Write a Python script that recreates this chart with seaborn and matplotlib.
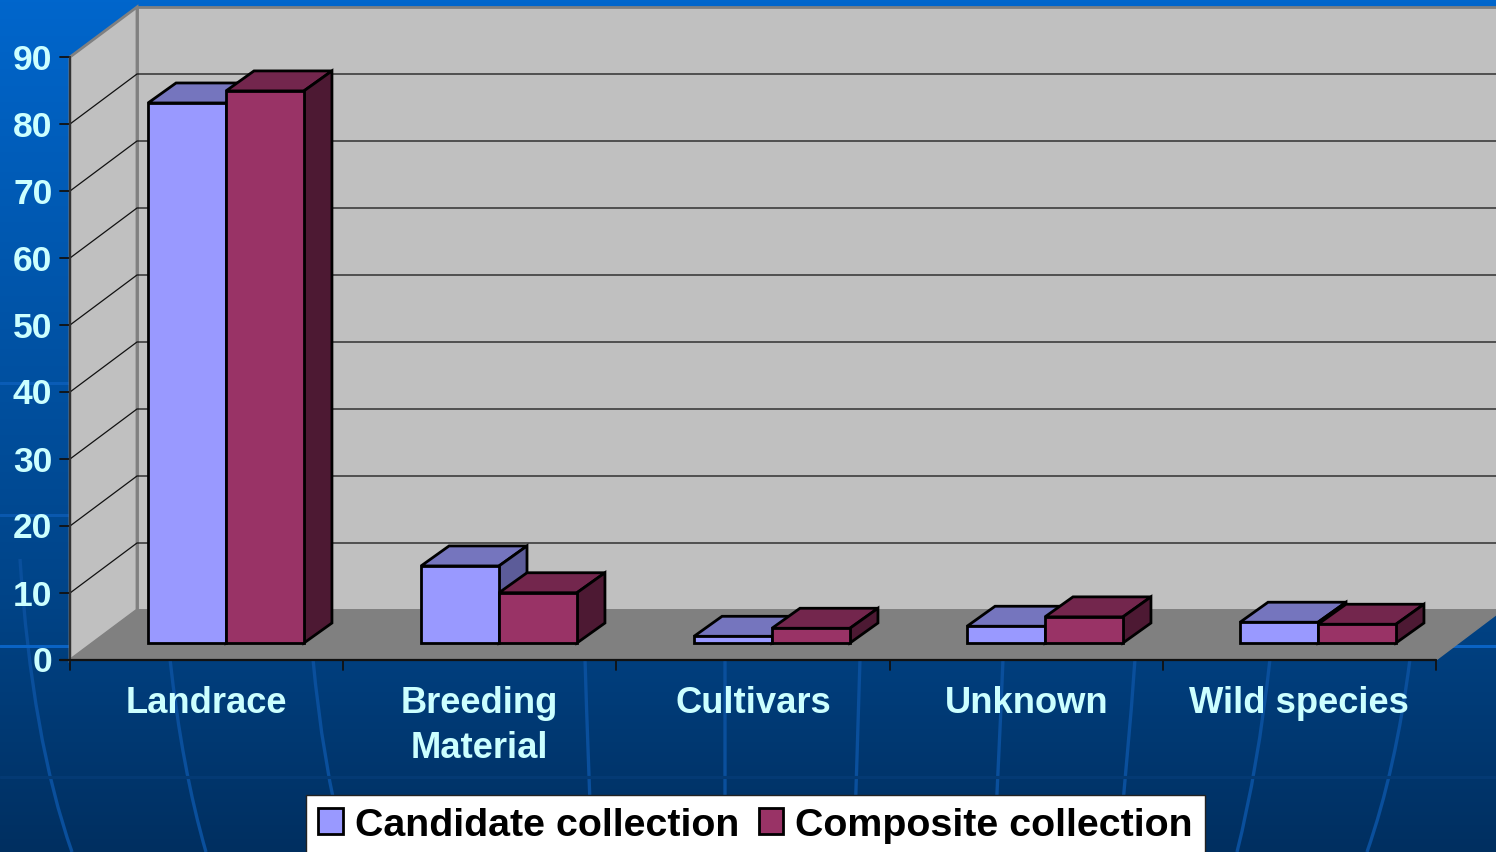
import numpy as np
import pandas as pd
import matplotlib
matplotlib.use("Agg")
import matplotlib.pyplot as plt
from matplotlib.colors import LinearSegmentedColormap
from matplotlib.patches import Polygon, PathPatch
from matplotlib.path import Path
import seaborn as sns

categories = ["Landrace", "Breeding\nMaterial", "Cultivars", "Unknown", "Wild species"]
candidate_values = [80.6, 11.5, 1.0, 2.5, 3.1]
composite_values = [82.4, 7.5, 2.2, 3.9, 2.8]
series_names = ["Candidate collection", "Composite collection"]
y_ticks = [0, 10, 20, 30, 40, 50, 60, 70, 80, 90]

W, H = 1496, 853
FRONT_COLORS = ["#9999FF", "#993366"]
TOP_COLORS = ["#7575BE", "#73264D"]
SIDE_COLORS = ["#5C5C99", "#4D1933"]
LABEL_COLOR = "#CCFFFF"

sns.set_theme(style="white")
plt.rcParams["font.family"] = ["Liberation Sans", "DejaVu Sans"]
plt.rcParams["font.weight"] = "bold"

fig = plt.figure(figsize=(W / 100, H / 100), dpi=100)

# Backdrop and chart box are laid out in screen units on their own axes
bg = fig.add_axes([0, 0, 1, 1], zorder=0)
bg.set_xlim(0, W)
bg.set_ylim(H, 0)
bg.set_axis_off()

cmap = LinearSegmentedColormap.from_list(
    "backdrop", [(0, "#0066CC"), (0.2, "#005CB8"), (0.7, "#004488"), (1, "#002F60")]
)
bg.imshow(np.linspace(0, 1, 256)[:, None], cmap=cmap, extent=(0, W, H, 0), aspect="auto", zorder=0)

# Faint globe meridians and parallels behind the chart
meridians = [
    [(20, 560), (32, 740), (72, 853)],
    [(170, 660), (182, 770), (206, 853)],
    [(313, 660), (322, 760), (345, 853)],
    [(585, 660), (588, 760), (592, 853)],
    [(725, 660), (725, 760), (725, 853)],
    [(860, 660), (857, 760), (854, 853)],
    [(1003, 660), (999, 760), (994, 853)],
    [(1135, 660), (1128, 760), (1118, 853)],
    [(1270, 660), (1258, 770), (1237, 853)],
    [(1410, 660), (1396, 770), (1367, 853)],
]
for points in meridians:
    path = Path(points, [Path.MOVETO, Path.CURVE3, Path.CURVE3])
    bg.add_patch(PathPatch(path, fc="none", ec="#0A4F9C", lw=2.4, zorder=1))
for y, x0, x1, colour in [
    (647, 0, 70, "#0A63C4"), (647, 1450, W, "#0A63C4"),
    (516, 0, 70, "#0A58AE"), (384, 0, 70, "#0A5CB6"), (778, 0, W, "#043A74"),
]:
    bg.plot([x0, x1], [y, y], color=colour, lw=2.2, zorder=1)

# Chart box: back wall, side wall and floor
DX, DY = 67, 50
AX_L, AX_R, AX_B, AX_T = 70, 1436, 661, 58
PX_PER_UNIT = (AX_B - AX_T) / 90
bg.add_patch(Polygon([(AX_L + DX, AX_T - DY), (W + 5, AX_T - DY), (W + 5, AX_B - DY), (AX_L + DX, AX_B - DY)],
                     fc="#C0C0C0", ec="#808080", lw=2, zorder=2))
bg.add_patch(Polygon([(AX_L, AX_T), (AX_L + DX, AX_T - DY), (AX_L + DX, AX_B - DY), (AX_L, AX_B)],
                     fc="#C0C0C0", ec="#808080", lw=2, zorder=2))
bg.add_patch(Polygon([(AX_L, AX_B), (AX_L + DX, AX_B - DY), (W + 5, AX_B - DY), (W + 5, AX_B - DY + 1), (AX_R, AX_B)],
                     fc="#808080", ec="#808080", lw=1, zorder=3))

for v in y_ticks:
    y = AX_B - v * PX_PER_UNIT
    if 0 < v < 90:
        bg.plot([AX_L, AX_L + DX, W], [y, y - DY, y - DY], color="#111111", lw=0.9, zorder=3,
                solid_joinstyle="miter")
    bg.plot([60, AX_L], [y, y], color="#111111", lw=1.3, zorder=4)
    bg.text(52.5, y + 2, str(v), ha="right", va="center", color=LABEL_COLOR, fontsize=25.5, fontweight="bold", zorder=5)

bg.plot([AX_L, AX_L], [AX_T, AX_B], color="#333333", lw=1.5, zorder=4)
bg.plot([60, AX_R], [AX_B, AX_B], color="#111111", lw=1.6, zorder=4)

x_edges = np.linspace(AX_L, AX_R, len(categories) + 1)
for x in x_edges:
    bg.plot([x, x], [AX_B, AX_B + 10], color="#111111", lw=1.3, zorder=4)
for name, x0, x1 in zip(categories, x_edges[:-1], x_edges[1:]):
    bg.text((x0 + x1) / 2, 686, name, ha="center", va="top", color=LABEL_COLOR, fontsize=26.2,
            fontweight="bold", linespacing=1.36, zorder=5)

# Bars live on a transparent data axes overlaid on the box
ax = fig.add_axes([0, 0, 1, 1], zorder=1)
ax.patch.set_alpha(0)

frame = pd.DataFrame({
    "category": categories * 2,
    "series": [series_names[0]] * len(categories) + [series_names[1]] * len(categories),
    "value": candidate_values + composite_values,
})
sns.barplot(
    data=frame, x="category", y="value", hue="series", hue_order=series_names,
    order=categories, palette=FRONT_COLORS, saturation=1, width=0.571,
    edgecolor="black", linewidth=2, ax=ax,
)

CATEGORY_STEP = 273.0
FIRST_CENTER = 226.0
BASELINE = 644.0
ax.set_xlim(-FIRST_CENTER / CATEGORY_STEP, (W - FIRST_CENTER) / CATEGORY_STEP)
ax.set_ylim((BASELINE - H) / PX_PER_UNIT, BASELINE / PX_PER_UNIT)

# Extrude each bar backwards to give the top and side faces
dx = 28 / CATEGORY_STEP
dy = 20 / PX_PER_UNIT
for s, container in enumerate(ax.containers):
    for bar in container:
        bar.set_zorder(11 + 2 * s)
        x0, w, h = bar.get_x(), bar.get_width(), bar.get_height()
        x1 = x0 + w
        ax.add_patch(Polygon([(x0, h), (x0 + dx, h + dy), (x1 + dx, h + dy), (x1, h)],
                             fc=TOP_COLORS[s], ec="black", lw=2, joinstyle="miter", zorder=10 + 2 * s))
        ax.add_patch(Polygon([(x1, 0), (x1 + dx, dy), (x1 + dx, h + dy), (x1, h)],
                             fc=SIDE_COLORS[s], ec="black", lw=2, joinstyle="miter", zorder=10 + 2 * s))

ax.set_axis_off()

legend = ax.legend(
    loc="lower left", bbox_to_anchor=(306 / W, -3 / H), bbox_transform=fig.transFigure,
    ncol=2, fontsize=28.4, frameon=True, fancybox=False, framealpha=1, facecolor="white",
    edgecolor="#222222", handlelength=0.63, handleheight=0.63, handletextpad=0.3,
    columnspacing=0.5, borderpad=0.3, borderaxespad=0, title=None,
)
legend.get_frame().set_linewidth(1)
for text in legend.get_texts():
    text.set_color("black")
    text.set_fontweight("bold")
legend.set_zorder(30)

fig.savefig("out.png", dpi=100)
